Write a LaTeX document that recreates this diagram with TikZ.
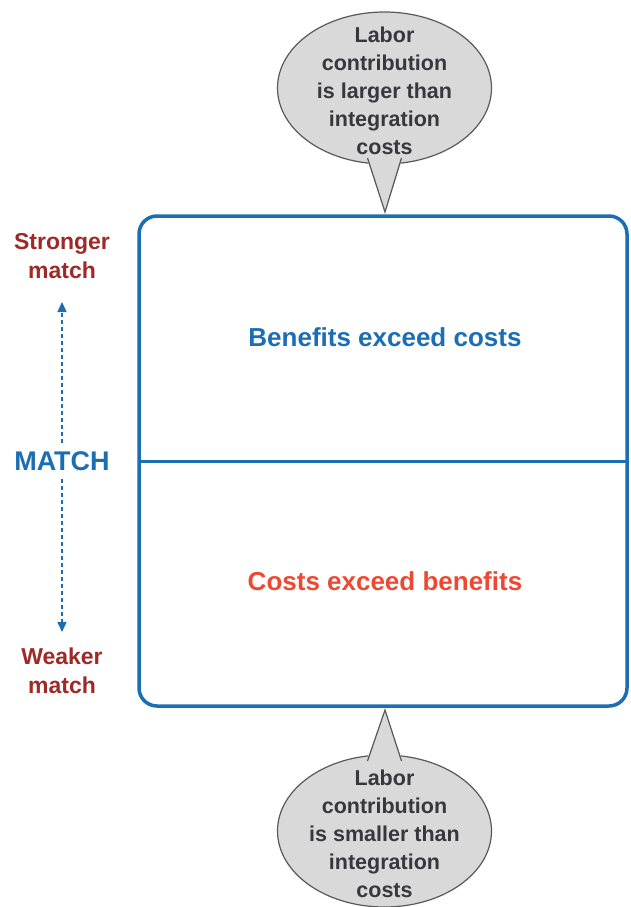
\documentclass[tikz,border=0pt]{standalone}
\usepackage{fontspec}
\setmainfont{Liberation Sans}
\usepackage{tikz}
\usetikzlibrary{arrows.meta}
\definecolor{matchblue}{RGB}{27,110,180}
\definecolor{weakred}{RGB}{158,42,40}
\definecolor{costred}{RGB}{238,72,50}
\definecolor{bubblegray}{RGB}{217,217,217}
\definecolor{bubbletext}{RGB}{55,55,60}
\tikzset{
	bubbleedge/.style={draw=black!65, line width=1.2pt, line join=miter},
	bubbletext/.style={align=center, text=bubbletext, font=\fontsize{21.5}{28}\selectfont\bfseries},
	sidelabel/.style={align=center, text=weakred, font=\fontsize{23}{29}\selectfont\bfseries},
	matcharrow/.style={matchblue, line width=1.5pt, dash pattern=on 4pt off 3pt, -{Triangle[length=10pt,width=9pt]}},
}
\begin{document}
\begin{tikzpicture}[x=1pt,y=-1pt]
		%%%%% START %%%%%
		\useasboundingbox (0,0) rectangle (630,907);
		
		% main box
		\draw[line width=3.5pt, color=matchblue, rounded corners=18pt] (139,216) rectangle (627,706);
		\coordinate (midleft) at (139,461);
		\coordinate (midright) at (627,461);
		\draw[line width=3pt, color=matchblue] (midleft) -- (midright);
		
		\node[text=matchblue, font=\fontsize{26}{30}\selectfont\bfseries] (benefits) at (385,337) {Benefits exceed costs};
		\node[text=costred, font=\fontsize{26}{30}\selectfont\bfseries] (costs) at (385,581) {Costs exceed benefits};
		
		% top bubble
		\draw[bubbleedge, fill=bubblegray] (384.5,88) ellipse [x radius=107, y radius=76];
		\coordinate (largerleft) at (367.5,161);
		\coordinate (largerright) at (401.5,161);
		\coordinate (largertip) at (385,212);
		\fill[bubblegray] (largerleft) -- (largertip) -- (largerright) -- cycle;
		\draw[bubbleedge] ([yshift=3pt]largerleft) -- (largertip) -- ([yshift=3pt]largerright);
		\node[bubbletext] (larger) at (384.5,91) {Labor\\contribution\\is larger than\\integration\\costs};
		
		% bottom bubble
		\draw[bubbleedge, fill=bubblegray] (384.5,831) ellipse [x radius=107, y radius=76];
		\coordinate (smallerleft) at (367.5,758);
		\coordinate (smallerright) at (401.5,758);
		\coordinate (smallertip) at (385,710);
		\fill[bubblegray] (smallerleft) -- (smallertip) -- (smallerright) -- cycle;
		\draw[bubbleedge] ([yshift=-3pt]smallerleft) -- (smallertip) -- ([yshift=-3pt]smallerright);
		\node[bubbletext] (smaller) at (384.5,834) {Labor\\contribution\\is smaller than\\integration\\costs};
		
		% left scale
		\node[sidelabel] (stronger) at (62,256) {Stronger\\match};
		\node[text=matchblue, font=\fontsize{27}{30}\selectfont\bfseries, inner sep=8pt] (match) at (62,461) {MATCH};
		\node[sidelabel] (weaker) at (62,671) {Weaker\\match};
		\coordinate (uptip) at (62,302);
		\coordinate (downtip) at (62,632);
		\draw[matcharrow] (match.north) -- (uptip);
		\draw[matcharrow] (match.south) -- (downtip);
		
		%%%%% END %%%%%
	\end{tikzpicture}
\end{document}
